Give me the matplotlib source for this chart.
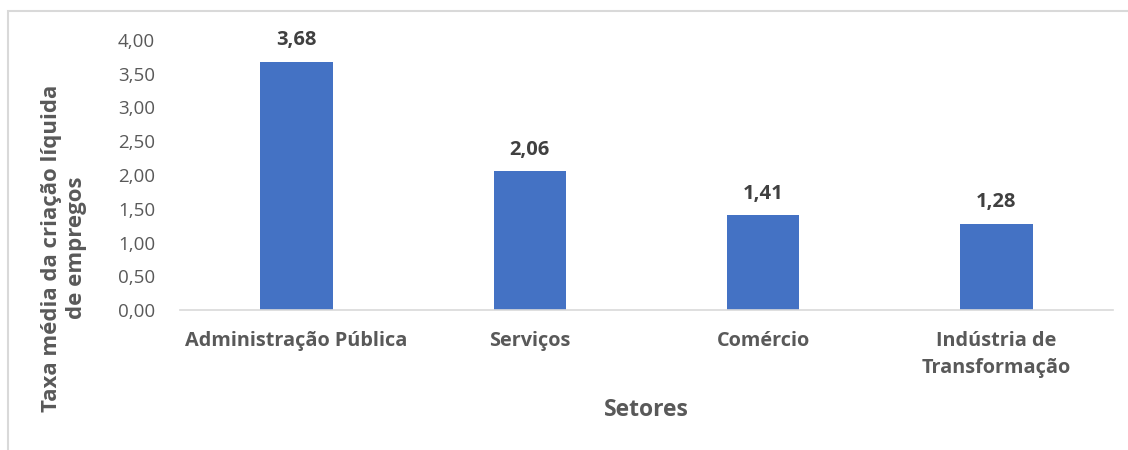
import matplotlib.pyplot as plt
from matplotlib.patches import Rectangle

# Taxa média de criação líquida de empregos por setor
setores = ["Administração Pública", "Serviços", "Comércio", "Indústria de\nTransformação"]
taxas = [3.68, 2.06, 1.41, 1.28]
yticks = [0, 0.5, 1.0, 1.5, 2.0, 2.5, 3.0, 3.5, 4.0]

plt.rcParams['font.family'] = ['Open Sans', 'DejaVu Sans']

fig = plt.figure(figsize=(11.28, 4.5), dpi=100)
ax = fig.add_axes([180 / 1128, 1 - 310 / 450, 933 / 1128, 270 / 450])

pos = range(len(setores))
ax.bar(pos, taxas, width=0.31, color="#4472C4")

for x, v in zip(pos, taxas):
    ax.annotate(f"{v:.2f}".replace(".", ","), (x, v), xytext=(0, 8),
                textcoords="offset points", ha="center", va="bottom",
                fontsize=14.5, fontweight="bold", color="#404040")

ax.set_xlim(-0.5, len(setores) - 0.5)
ax.set_ylim(0, 4)
ax.set_yticks(yticks)
ax.set_yticklabels([f"{t:.2f}".replace(".", ",") for t in yticks])
ax.set_xticks(list(pos))
ax.set_xticklabels(setores, fontweight="bold", linespacing=1.5)

ax.tick_params(axis="y", length=0, pad=18, labelsize=13.5, labelcolor="#595959")
ax.tick_params(axis="x", length=0, pad=15, labelsize=14.3, labelcolor="#595959")

for s in ["top", "right", "left"]:
    ax.spines[s].set_visible(False)
ax.spines["bottom"].set_color("#D9D9D9")
ax.spines["bottom"].set_linewidth(1.2)

fig.text(646 / 1128, 1 - 410 / 450, "Setores", ha="center", va="center",
         fontsize=16.5, fontweight="bold", color="#595959")
fig.text(64 / 1128, 1 - 248 / 450, "Taxa média da criação líquida\nde empregos",
         rotation=90, ha="center", va="center", multialignment="center",
         fontsize=16, fontweight="bold", color="#595959", linespacing=1.3)

# moldura do gráfico
fig.patches.append(Rectangle((8 / 1128, -0.1), 1.2, 1 - 10.5 / 450 + 0.1,
                             transform=fig.transFigure, fill=False,
                             edgecolor="#D9D9D9", linewidth=1.5))

fig.savefig("out.png", dpi=100)
